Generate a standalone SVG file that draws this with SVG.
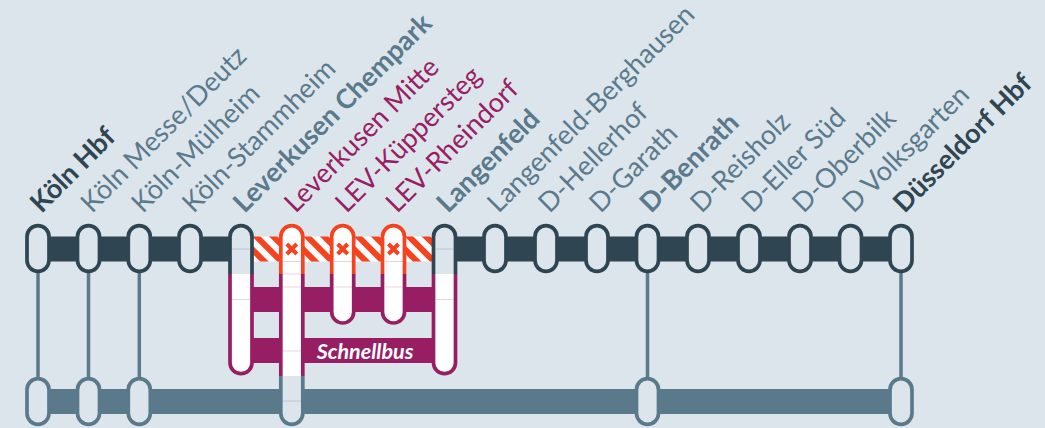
<svg xmlns="http://www.w3.org/2000/svg" width="1045" height="428" viewBox="0 0 1045 428">
<style>
text{font-family:Lato,"Open Sans","Liberation Sans",sans-serif;font-size:27px}
.l{fill:#5a7a8c}.b{font-weight:700}.d{fill:#2f4552}.p{fill:#981e64}
.pill{fill:#dce5ec;stroke-width:3.700}
.tick{stroke:#5a7a8c;stroke-width:3.500}
.x{stroke:#f5431f;stroke-width:4;fill:none}
.s{stroke-width:3.700;fill:none}
.f{stroke:none}
.m{stroke:#981e64;stroke-opacity:.2;stroke-width:1;fill:none}
.g{stroke:#5a7a8c;stroke-opacity:.25;stroke-width:1;fill:none}
</style>
<defs>
<pattern id="h" width="12" height="12" patternUnits="userSpaceOnUse" patternTransform="rotate(-45 253 236)">
<rect width="12" height="12" fill="#fff"/><rect width="6" height="12" fill="#f5431f"/>
</pattern>
</defs>
<rect width="1045" height="428" fill="#dce5ec"/>
<g id="connectors">
<rect x="38" y="236.500" width="210" height="25" fill="#2f4552"/>
<rect x="444" y="236.500" width="457" height="25" fill="#2f4552"/>
<rect x="253" y="236.500" width="180" height="25" fill="url(#h)"/>
<rect x="38" y="389" width="863" height="25" fill="#5a7a8c"/>
<rect x="232" y="287" width="212" height="25" fill="#981e64"/>
<rect x="232" y="338" width="212" height="25" fill="#981e64"/>
<path class="tick" d="M38 273V377M88.500 273V377M139.300 273V377M647.500 273V377M901 273V377"/>
</g>
<g id="upper-stops" fill="none" stroke="#2f4552">
<g id="koeln-hbf"><rect class="pill" x="27" y="225.700" width="22" height="45.600" rx="11"/></g>
<g id="koeln-messe"><rect class="pill" x="77.500" y="225.700" width="22" height="45.600" rx="11"/></g>
<g id="koeln-muelheim"><rect class="pill" x="128.300" y="225.700" width="22" height="45.600" rx="11"/></g>
<g id="koeln-stammheim"><rect class="pill" x="179" y="225.700" width="22" height="45.600" rx="11"/></g>
<g id="langenfeld-berghausen"><rect class="pill" x="484" y="225.700" width="22" height="45.600" rx="11"/></g>
<g id="d-hellerhof"><rect class="pill" x="535" y="225.700" width="22" height="45.600" rx="11"/></g>
<g id="d-garath"><rect class="pill" x="586" y="225.700" width="22" height="45.600" rx="11"/></g>
<g id="d-benrath"><rect class="pill" x="636.500" y="225.700" width="22" height="45.600" rx="11"/></g>
<g id="d-reisholz"><rect class="pill" x="687" y="225.700" width="22" height="45.600" rx="11"/></g>
<g id="d-eller-sued"><rect class="pill" x="738" y="225.700" width="22" height="45.600" rx="11"/></g>
<g id="d-oberbilk"><rect class="pill" x="789" y="225.700" width="22" height="45.600" rx="11"/></g>
<g id="d-volksgarten"><rect class="pill" x="839.500" y="225.700" width="22" height="45.600" rx="11"/></g>
<g id="duesseldorf-hbf"><rect class="pill" x="890" y="225.700" width="22" height="45.600" rx="11"/></g>
</g>
<g id="lower-stops" fill="none" stroke="#5a7a8c">
<g id="low-koeln-hbf"><rect class="pill" x="27" y="378.700" width="22" height="45.600" rx="11"/></g>
<g id="low-koeln-messe"><rect class="pill" x="77.500" y="378.700" width="22" height="45.600" rx="11"/></g>
<g id="low-koeln-muelheim"><rect class="pill" x="128.300" y="378.700" width="22" height="45.600" rx="11"/></g>
<g id="low-d-benrath"><rect class="pill" x="636.500" y="378.700" width="22" height="45.600" rx="11"/></g>
<g id="low-duesseldorf"><rect class="pill" x="890" y="378.700" width="22" height="45.600" rx="11"/></g>
</g>
<g id="chempark">
<path class="f" d="M230 274V362.700a11 11 0 0 0 22 0V274Z" fill="#fff"/>
<path class="f" d="M230 274V236.700a11 11 0 0 1 22 0V274Z" fill="#dce5ec"/>
<path class="s" stroke="#981e64" d="M230 274V362.700a11 11 0 0 0 22 0V274"/>
<path class="s" stroke="#2f4552" d="M230 274V236.700a11 11 0 0 1 22 0V274"/>
<path class="g" d="M232 249H250"/><path class="m" d="M232 299.500H250"/>
</g>
<g id="langenfeld">
<path class="f" d="M433.500 274V362.700a11 11 0 0 0 22 0V274Z" fill="#fff"/>
<path class="f" d="M433.500 274V236.700a11 11 0 0 1 22 0V274Z" fill="#dce5ec"/>
<path class="s" stroke="#981e64" d="M433.500 274V362.700a11 11 0 0 0 22 0V274"/>
<path class="s" stroke="#2f4552" d="M433.500 274V236.700a11 11 0 0 1 22 0V274"/>
<path class="g" d="M435.500 249H453.500"/><path class="m" d="M435.500 299.500H453.500"/>
</g>
<g id="lev-mitte">
<path class="f" d="M280.800 274V236.700a11 11 0 0 1 22 0V376H280.800Z" fill="#fff"/>
<path class="f" d="M280.800 376V413.300a11 11 0 0 0 22 0V376Z" fill="#dce5ec"/>
<path class="s" stroke="#5a7a8c" d="M280.800 376V413.300a11 11 0 0 0 22 0V376"/>
<path class="s" stroke="#981e64" d="M280.800 274V376M302.800 274V376"/>
<path class="s" stroke="#f5431f" d="M280.800 274V236.700a11 11 0 0 1 22 0V274"/>
<path class="x" d="M286.800 244l10 10m0-10l-10 10"/>
<path class="m" d="M283 261.500H301M283 274H301M283 287H301M283 351H301"/><path class="g" d="M283 401H301"/>
</g>
<g id="lev-kueppersteg">
<path class="f" d="M331.700 274V236.700a11 11 0 0 1 22 0V312a11 11 0 0 1-22 0Z" fill="#fff"/>
<path class="s" stroke="#981e64" d="M331.700 274V312a11 11 0 0 0 22 0V274"/>
<path class="s" stroke="#f5431f" d="M331.700 274V236.700a11 11 0 0 1 22 0V274"/>
<path class="x" d="M337.700 244l10 10m0-10l-10 10"/>
<path class="m" d="M334 261.500H352M334 287H352"/>
</g>
<g id="lev-rheindorf">
<path class="f" d="M382.500 274V236.700a11 11 0 0 1 22 0V312a11 11 0 0 1-22 0Z" fill="#fff"/>
<path class="s" stroke="#981e64" d="M382.500 274V312a11 11 0 0 0 22 0V274"/>
<path class="s" stroke="#f5431f" d="M382.500 274V236.700a11 11 0 0 1 22 0V274"/>
<path class="x" d="M388.500 244l10 10m0-10l-10 10"/>
<path class="m" d="M385 261.500H403M385 287H403"/>
</g>
<g id="labels">
<text class="b d" transform="translate(41.500 214) rotate(-45)">Köln Hbf</text>
<text class="l" transform="translate(92 214) rotate(-45)">Köln Messe/Deutz</text>
<text class="l" transform="translate(142.800 214) rotate(-45)">Köln-Mülheim</text>
<text class="l" transform="translate(193.500 214) rotate(-45)">Köln-Stammheim</text>
<text class="l b" transform="translate(244.500 214) rotate(-45)">Leverkusen Chempark</text>
<text class="p" transform="translate(295.500 214) rotate(-45)">Leverkusen Mitte</text>
<text class="p" transform="translate(346.500 214) rotate(-45)">LEV-Küppersteg</text>
<text class="p" transform="translate(397 214) rotate(-45)">LEV-Rheindorf</text>
<text class="l b" transform="translate(448 214) rotate(-45)">Langenfeld</text>
<text class="l" transform="translate(498.500 214) rotate(-45)">Langenfeld-Berghausen</text>
<text class="l" transform="translate(549.500 214) rotate(-45)">D-Hellerhof</text>
<text class="l" transform="translate(600.500 214) rotate(-45)">D-Garath</text>
<text class="l b" transform="translate(651 214) rotate(-45)">D-Benrath</text>
<text class="l" transform="translate(701.500 214) rotate(-45)">D-Reisholz</text>
<text class="l" transform="translate(752.500 214) rotate(-45)">D-Eller Süd</text>
<text class="l" transform="translate(803.500 214) rotate(-45)">D-Oberbilk</text>
<text class="l" transform="translate(853.500 214) rotate(-45)">D Volksgarten</text>
<text class="b d" transform="translate(904.500 214) rotate(-45)">Düsseldorf Hbf</text>
<text x="365" y="358.500" text-anchor="middle" fill="#fff" font-weight="700" font-style="italic" style="font-size:21.500px">Schnellbus</text>
</g>
</svg>
